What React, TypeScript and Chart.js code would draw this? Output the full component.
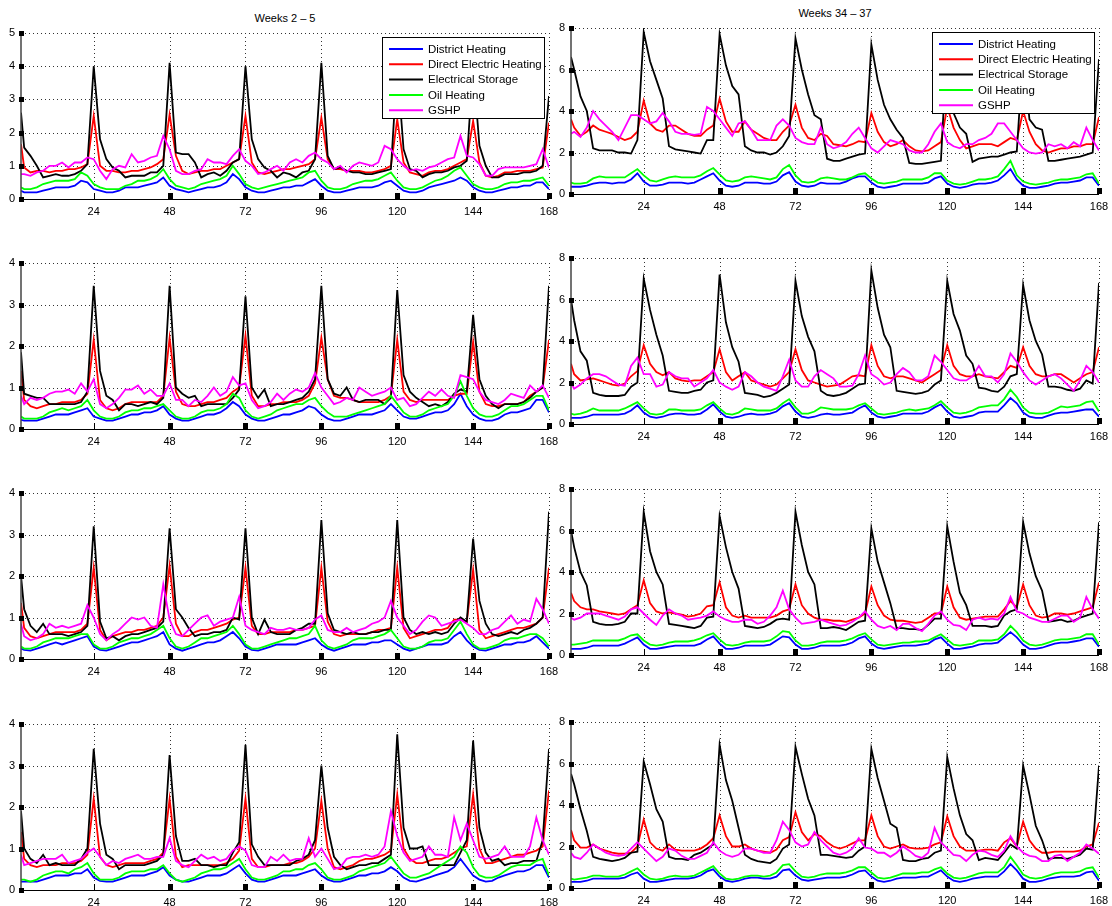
import React, { useEffect, useRef } from 'react';
import { Chart, registerables } from 'chart.js';

Chart.register(...registerables);
Chart.defaults.font.family = '"Liberation Sans", Arial, Helvetica, sans-serif';

// Hour of the week at which each sample is taken (first hour, then every second hour).
const HOURS: number[] = [1, ...Array.from({ length: 84 }, (_, i) => 2 * i + 2)];
const X_TICKS = [24, 48, 72, 96, 120, 144, 168];

const SERIES_NAMES = ['District Heating', 'Direct Electric Heating', 'Electrical Storage', 'Oil Heating', 'GSHP'];
const SERIES_COLORS = ['#0000ff', '#ff0000', '#000000', '#00ff00', '#ff00ff'];

// ---- Weeks 2 - 5 (winter), one row per week ----
const W2_DH = [0.25,
  0.2, 0.2, 0.2, 0.25, 0.3, 0.35, 0.35, 0.35, 0.4, 0.55, 0.5, 0.3,
  0.25, 0.2, 0.2, 0.25, 0.35, 0.35, 0.35, 0.4, 0.45, 0.5, 0.65, 0.4,
  0.3, 0.25, 0.2, 0.25, 0.3, 0.35, 0.35, 0.4, 0.5, 0.75, 0.6, 0.35,
  0.25, 0.2, 0.2, 0.25, 0.3, 0.35, 0.35, 0.4, 0.4, 0.5, 0.6, 0.4,
  0.25, 0.2, 0.2, 0.25, 0.3, 0.35, 0.35, 0.35, 0.4, 0.5, 0.55, 0.4,
  0.25, 0.2, 0.2, 0.25, 0.35, 0.4, 0.45, 0.5, 0.55, 0.65, 0.55, 0.35,
  0.25, 0.2, 0.2, 0.25, 0.3, 0.35, 0.35, 0.4, 0.4, 0.5, 0.5, 0.3];
const W2_DE = [1.65,
  0.95, 0.8, 0.85, 0.85, 0.8, 0.85, 0.85, 0.9, 0.9, 0.95, 1.05, 2.5,
  1.0, 0.85, 0.85, 0.8, 0.8, 0.85, 0.85, 0.9, 0.95, 1.05, 1.2, 2.55,
  1.3, 0.85, 0.75, 0.8, 0.85, 0.85, 0.9, 0.9, 1.0, 1.1, 1.2, 2.5,
  1.1, 0.8, 0.75, 0.8, 0.85, 0.9, 0.9, 0.95, 1.0, 1.05, 1.2, 2.45,
  1.2, 0.9, 0.9, 0.85, 0.85, 0.85, 0.8, 0.8, 0.85, 0.9, 1.0, 2.4,
  1.1, 0.8, 0.75, 0.7, 0.8, 0.85, 0.85, 0.9, 1.0, 1.1, 1.2, 2.35,
  1.1, 0.7, 0.65, 0.7, 0.8, 0.8, 0.85, 0.85, 0.85, 0.9, 0.95, 2.3];
const W2_ES = [2.6,
  1.55, 1.3, 1.0, 0.65, 0.7, 0.75, 0.7, 0.7, 0.75, 0.85, 1.05, 4.0,
  1.8, 1.2, 0.95, 0.85, 0.65, 0.7, 0.7, 0.7, 0.8, 0.8, 1.0, 4.1,
  1.4, 1.35, 1.35, 1.1, 0.65, 0.75, 0.8, 0.7, 0.85, 1.1, 1.2, 4.0,
  1.8, 1.2, 0.95, 0.85, 0.65, 0.8, 0.75, 0.65, 0.8, 0.85, 1.2, 4.1,
  1.3, 0.9, 0.95, 0.85, 0.8, 0.8, 0.75, 0.75, 0.8, 0.85, 0.9, 4.0,
  1.5, 0.9, 0.85, 0.65, 0.75, 0.8, 0.8, 0.85, 0.95, 1.0, 1.15, 4.0,
  1.6, 1.0, 0.65, 0.65, 0.75, 0.75, 0.75, 0.8, 0.8, 0.85, 1.0, 3.1];
const W2_OIL = [0.35,
  0.3, 0.3, 0.35, 0.45, 0.5, 0.55, 0.55, 0.55, 0.6, 0.8, 0.7, 0.45,
  0.35, 0.3, 0.3, 0.3, 0.4, 0.45, 0.55, 0.55, 0.6, 0.7, 0.9, 0.6,
  0.4, 0.35, 0.3, 0.35, 0.45, 0.5, 0.55, 0.6, 0.7, 1.0, 0.75, 0.45,
  0.35, 0.3, 0.35, 0.4, 0.45, 0.5, 0.55, 0.6, 0.65, 0.8, 0.85, 0.55,
  0.35, 0.3, 0.3, 0.35, 0.45, 0.5, 0.55, 0.55, 0.6, 0.7, 0.8, 0.55,
  0.35, 0.3, 0.3, 0.35, 0.45, 0.55, 0.6, 0.7, 0.85, 0.95, 0.7, 0.45,
  0.35, 0.3, 0.3, 0.35, 0.45, 0.5, 0.5, 0.55, 0.55, 0.6, 0.65, 0.4];
const W2_GSHP = [0.75,
  0.75, 0.7, 0.8, 0.85, 1.0, 1.0, 1.1, 0.95, 1.1, 1.1, 1.25, 1.2,
  0.85, 0.6, 0.9, 1.0, 0.95, 1.35, 1.1, 1.15, 1.25, 1.3, 1.9, 1.5,
  0.85, 0.75, 0.75, 0.85, 0.9, 1.2, 1.1, 1.1, 1.05, 1.3, 1.5, 1.15,
  1.0, 0.75, 0.8, 0.9, 1.0, 0.85, 1.1, 1.2, 1.1, 1.3, 1.4, 1.2,
  1.1, 0.9, 1.0, 0.8, 1.0, 1.1, 1.05, 1.0, 1.1, 1.6, 1.5, 1.2,
  1.0, 0.85, 0.9, 0.85, 0.95, 1.0, 1.1, 1.2, 1.25, 1.9, 1.3, 1.25,
  1.05, 0.7, 0.7, 0.9, 0.95, 0.95, 0.95, 0.95, 1.0, 1.05, 1.5, 0.95];

const W3_DH = [0.22,
  0.2, 0.2, 0.2, 0.25, 0.3, 0.35, 0.35, 0.35, 0.4, 0.45, 0.5, 0.3,
  0.25, 0.2, 0.2, 0.25, 0.3, 0.35, 0.35, 0.4, 0.4, 0.45, 0.55, 0.35,
  0.25, 0.2, 0.2, 0.25, 0.3, 0.35, 0.35, 0.4, 0.5, 0.65, 0.55, 0.35,
  0.25, 0.2, 0.2, 0.25, 0.3, 0.35, 0.35, 0.4, 0.45, 0.55, 0.5, 0.35,
  0.25, 0.2, 0.2, 0.25, 0.3, 0.35, 0.35, 0.35, 0.4, 0.45, 0.6, 0.45,
  0.3, 0.25, 0.25, 0.3, 0.35, 0.4, 0.4, 0.45, 0.6, 0.85, 0.55, 0.35,
  0.25, 0.2, 0.2, 0.25, 0.35, 0.4, 0.4, 0.45, 0.5, 0.7, 0.7, 0.4];
const W3_DE = [1.4,
  0.7, 0.55, 0.5, 0.55, 0.6, 0.6, 0.65, 0.65, 0.65, 0.7, 0.85, 2.15,
  0.7, 0.5, 0.45, 0.5, 0.6, 0.65, 0.65, 0.65, 0.65, 0.65, 0.8, 2.2,
  0.9, 0.6, 0.55, 0.55, 0.6, 0.65, 0.65, 0.7, 0.75, 0.9, 1.0, 2.25,
  0.8, 0.55, 0.55, 0.6, 0.6, 0.65, 0.65, 0.65, 0.7, 0.8, 1.1, 2.2,
  1.2, 0.8, 0.75, 0.75, 0.7, 0.65, 0.65, 0.65, 0.65, 0.7, 0.8, 2.15,
  0.9, 0.7, 0.65, 0.7, 0.7, 0.7, 0.7, 0.7, 0.8, 0.85, 0.85, 2.1,
  0.9, 0.6, 0.55, 0.55, 0.6, 0.6, 0.6, 0.65, 0.8, 0.9, 1.0, 2.15];
const W3_ES = [1.85,
  0.85, 0.8, 0.75, 0.75, 0.6, 0.6, 0.6, 0.6, 0.6, 0.65, 0.9, 3.45,
  1.4, 0.8, 0.7, 0.45, 0.6, 0.6, 0.55, 0.6, 0.65, 0.6, 0.75, 3.45,
  1.0, 0.85, 0.75, 0.8, 0.55, 0.6, 0.6, 0.6, 0.6, 0.75, 0.95, 3.2,
  1.0, 0.75, 0.95, 0.55, 0.6, 0.6, 0.65, 0.7, 0.75, 0.9, 1.2, 3.45,
  1.2, 0.85, 0.8, 1.0, 0.7, 0.65, 0.7, 0.7, 0.7, 0.6, 0.75, 3.35,
  1.3, 0.9, 0.75, 0.65, 0.55, 0.6, 0.55, 0.65, 0.85, 0.95, 0.9, 2.75,
  1.2, 0.8, 0.6, 0.5, 0.6, 0.6, 0.6, 0.65, 0.75, 0.9, 1.0, 3.45];
const W3_OIL = [0.3,
  0.25, 0.25, 0.25, 0.3, 0.4, 0.45, 0.5, 0.45, 0.5, 0.55, 0.7, 0.45,
  0.3, 0.25, 0.25, 0.3, 0.4, 0.45, 0.45, 0.5, 0.5, 0.55, 0.6, 0.45,
  0.3, 0.25, 0.25, 0.3, 0.4, 0.45, 0.45, 0.5, 0.6, 0.85, 0.75, 0.45,
  0.3, 0.25, 0.3, 0.35, 0.45, 0.5, 0.55, 0.6, 0.6, 0.7, 0.75, 0.55,
  0.4, 0.3, 0.3, 0.3, 0.35, 0.4, 0.45, 0.5, 0.55, 0.6, 0.8, 0.6,
  0.4, 0.3, 0.3, 0.35, 0.45, 0.5, 0.55, 0.6, 0.8, 1.15, 0.8, 0.5,
  0.35, 0.3, 0.3, 0.35, 0.45, 0.55, 0.55, 0.6, 0.7, 0.8, 0.8, 0.45];
const W3_GSHP = [0.8,
  0.6, 0.75, 0.7, 0.75, 0.85, 0.9, 0.9, 0.95, 0.85, 1.1, 0.9, 1.2,
  0.6, 0.5, 0.6, 0.75, 0.95, 0.95, 1.05, 0.85, 0.95, 0.8, 0.8, 1.1,
  0.7, 0.7, 0.55, 0.7, 0.65, 0.8, 1.0, 0.8, 0.9, 1.25, 1.05, 1.1,
  0.7, 0.5, 0.55, 0.65, 0.85, 0.7, 0.85, 0.95, 0.9, 1.0, 1.35, 1.0,
  0.8, 0.6, 0.65, 0.75, 0.7, 1.0, 0.9, 0.8, 0.85, 0.9, 1.0, 0.7,
  0.75, 0.55, 0.6, 0.75, 0.9, 0.8, 0.95, 0.8, 0.75, 1.3, 1.25, 1.2,
  0.9, 0.7, 0.65, 0.6, 0.7, 0.85, 0.8, 0.75, 1.05, 0.9, 1.05, 0.75];

const W4_DH = [0.25,
  0.22, 0.2, 0.25, 0.3, 0.35, 0.4, 0.35, 0.4, 0.45, 0.5, 0.55, 0.3,
  0.22, 0.2, 0.25, 0.3, 0.35, 0.4, 0.4, 0.45, 0.5, 0.55, 0.65, 0.35,
  0.25, 0.2, 0.25, 0.3, 0.35, 0.4, 0.4, 0.45, 0.55, 0.65, 0.5, 0.3,
  0.22, 0.2, 0.25, 0.3, 0.35, 0.35, 0.35, 0.35, 0.4, 0.45, 0.5, 0.35,
  0.25, 0.2, 0.25, 0.3, 0.35, 0.35, 0.35, 0.4, 0.4, 0.45, 0.45, 0.35,
  0.25, 0.2, 0.25, 0.3, 0.35, 0.35, 0.35, 0.4, 0.55, 0.65, 0.45, 0.3,
  0.22, 0.2, 0.25, 0.3, 0.35, 0.35, 0.4, 0.4, 0.45, 0.55, 0.4, 0.25];
const W4_DE = [1.35,
  0.75, 0.55, 0.5, 0.55, 0.6, 0.65, 0.65, 0.65, 0.65, 0.7, 0.85, 2.2,
  0.7, 0.45, 0.55, 0.6, 0.65, 0.65, 0.7, 0.7, 0.75, 0.8, 1.0, 2.25,
  0.85, 0.55, 0.55, 0.65, 0.7, 0.7, 0.75, 0.8, 0.85, 0.95, 1.0, 2.2,
  0.8, 0.6, 0.6, 0.65, 0.65, 0.65, 0.65, 0.7, 0.7, 0.75, 0.8, 2.2,
  0.9, 0.6, 0.55, 0.6, 0.6, 0.6, 0.6, 0.65, 0.7, 0.7, 0.75, 2.2,
  0.75, 0.5, 0.55, 0.6, 0.65, 0.7, 0.7, 0.75, 0.95, 0.95, 0.9, 2.15,
  0.7, 0.5, 0.55, 0.6, 0.65, 0.7, 0.75, 0.75, 0.8, 0.85, 1.0, 2.2];
const W4_ES = [2.0,
  1.2, 0.8, 0.65, 0.85, 0.6, 0.6, 0.6, 0.55, 0.6, 0.65, 0.8, 3.2,
  0.9, 0.5, 0.55, 0.45, 0.55, 0.6, 0.6, 0.65, 0.7, 0.75, 0.9, 3.15,
  1.2, 1.0, 0.75, 0.55, 0.6, 0.6, 0.65, 0.65, 0.7, 1.0, 0.95, 3.15,
  1.0, 0.6, 0.95, 0.65, 0.6, 0.6, 0.6, 0.7, 0.75, 0.85, 0.85, 3.35,
  1.1, 0.7, 0.65, 0.6, 0.65, 0.6, 0.6, 0.65, 0.65, 0.7, 0.7, 3.35,
  1.0, 0.7, 0.6, 0.65, 0.6, 0.65, 0.6, 0.65, 0.85, 1.0, 0.9, 2.9,
  1.4, 0.85, 0.6, 0.55, 0.6, 0.65, 0.6, 0.7, 0.75, 0.85, 1.0, 3.55];
const W4_OIL = [0.3,
  0.25, 0.25, 0.3, 0.4, 0.45, 0.5, 0.5, 0.5, 0.55, 0.6, 0.6, 0.35,
  0.25, 0.25, 0.3, 0.4, 0.45, 0.5, 0.5, 0.55, 0.6, 0.7, 0.8, 0.5,
  0.3, 0.25, 0.3, 0.4, 0.5, 0.5, 0.55, 0.6, 0.65, 0.8, 0.6, 0.35,
  0.25, 0.25, 0.3, 0.35, 0.4, 0.45, 0.5, 0.5, 0.55, 0.6, 0.8, 0.45,
  0.3, 0.25, 0.3, 0.35, 0.45, 0.5, 0.5, 0.5, 0.55, 0.6, 0.7, 0.5,
  0.3, 0.25, 0.25, 0.3, 0.4, 0.45, 0.45, 0.5, 0.7, 0.9, 0.6, 0.35,
  0.25, 0.25, 0.3, 0.35, 0.45, 0.5, 0.5, 0.55, 0.6, 0.6, 0.5, 0.3];
const W4_GSHP = [0.85,
  0.55, 0.45, 0.5, 0.6, 0.85, 0.75, 0.8, 0.75, 0.8, 0.85, 1.3, 1.0,
  0.6, 0.45, 0.6, 0.7, 0.85, 1.0, 0.95, 1.0, 0.8, 0.75, 1.8, 0.95,
  0.6, 0.55, 0.7, 0.85, 1.0, 1.05, 0.8, 0.9, 0.95, 1.0, 1.5, 0.8,
  0.7, 0.65, 0.6, 0.75, 0.7, 0.7, 0.75, 0.7, 0.7, 0.75, 0.95, 1.05,
  0.7, 0.65, 0.65, 0.75, 0.65, 0.7, 0.75, 0.85, 0.9, 1.0, 1.4, 1.0,
  0.8, 0.6, 0.7, 0.9, 1.05, 1.0, 0.8, 0.85, 0.9, 0.95, 0.85, 0.75,
  0.6, 0.6, 0.7, 0.75, 0.9, 1.05, 0.85, 0.95, 0.9, 1.45, 1.2, 0.85];

const W5_DH = [0.2,
  0.2, 0.2, 0.2, 0.25, 0.3, 0.35, 0.35, 0.35, 0.4, 0.4, 0.5, 0.3,
  0.22, 0.2, 0.2, 0.25, 0.3, 0.35, 0.35, 0.35, 0.4, 0.45, 0.55, 0.35,
  0.25, 0.2, 0.2, 0.25, 0.3, 0.35, 0.35, 0.35, 0.4, 0.5, 0.6, 0.4,
  0.25, 0.2, 0.2, 0.25, 0.3, 0.35, 0.35, 0.35, 0.4, 0.45, 0.5, 0.35,
  0.25, 0.2, 0.2, 0.25, 0.3, 0.35, 0.35, 0.4, 0.4, 0.45, 0.55, 0.45,
  0.3, 0.22, 0.2, 0.25, 0.3, 0.35, 0.4, 0.45, 0.55, 0.75, 0.55, 0.35,
  0.25, 0.2, 0.22, 0.3, 0.35, 0.4, 0.45, 0.45, 0.5, 0.6, 0.6, 0.3];
const W5_DE = [1.4,
  0.75, 0.6, 0.55, 0.6, 0.6, 0.6, 0.65, 0.65, 0.65, 0.7, 0.85, 2.2,
  0.8, 0.6, 0.55, 0.6, 0.65, 0.65, 0.65, 0.65, 0.7, 0.75, 0.9, 2.2,
  0.8, 0.55, 0.6, 0.6, 0.6, 0.6, 0.6, 0.6, 0.65, 0.75, 0.95, 2.2,
  0.75, 0.55, 0.55, 0.6, 0.6, 0.6, 0.65, 0.65, 0.7, 0.8, 1.0, 2.15,
  1.0, 0.55, 0.5, 0.55, 0.6, 0.7, 0.75, 0.75, 0.8, 0.85, 0.95, 2.3,
  1.0, 0.75, 0.65, 0.65, 0.7, 0.75, 0.75, 0.8, 0.9, 1.0, 1.05, 2.3,
  1.0, 0.65, 0.65, 0.7, 0.75, 0.8, 0.85, 0.85, 0.9, 0.95, 1.05, 2.4];
const W5_ES = [1.9,
  1.0, 0.75, 0.65, 0.85, 0.6, 0.65, 0.6, 0.6, 0.6, 0.75, 1.0, 3.4,
  1.6, 0.85, 0.75, 0.5, 0.6, 0.6, 0.6, 0.6, 0.65, 0.7, 0.85, 3.25,
  1.3, 0.7, 0.7, 0.75, 0.6, 0.6, 0.55, 0.6, 0.6, 0.9, 1.15, 3.5,
  1.1, 0.8, 0.6, 0.6, 0.6, 0.6, 0.6, 0.7, 0.75, 0.85, 1.2, 3.0,
  1.5, 0.8, 0.6, 0.5, 0.55, 0.6, 0.6, 0.65, 0.65, 0.75, 0.85, 3.75,
  1.5, 1.0, 1.0, 1.05, 0.6, 0.6, 0.6, 0.6, 0.6, 0.9, 1.2, 3.6,
  1.5, 0.9, 0.7, 0.75, 0.6, 0.65, 0.65, 0.7, 0.7, 0.7, 1.2, 3.4];
const W5_OIL = [0.25,
  0.25, 0.2, 0.25, 0.35, 0.4, 0.45, 0.45, 0.4, 0.5, 0.55, 0.65, 0.4,
  0.25, 0.25, 0.25, 0.3, 0.4, 0.45, 0.45, 0.45, 0.5, 0.5, 0.6, 0.4,
  0.25, 0.2, 0.25, 0.3, 0.4, 0.45, 0.5, 0.5, 0.55, 0.65, 0.75, 0.5,
  0.3, 0.25, 0.25, 0.3, 0.35, 0.45, 0.45, 0.5, 0.5, 0.6, 0.65, 0.5,
  0.3, 0.25, 0.25, 0.3, 0.35, 0.45, 0.5, 0.55, 0.6, 0.65, 0.8, 0.6,
  0.4, 0.3, 0.3, 0.35, 0.4, 0.5, 0.6, 0.7, 0.8, 1.05, 0.9, 0.55,
  0.35, 0.3, 0.3, 0.35, 0.45, 0.55, 0.6, 0.6, 0.6, 0.7, 0.75, 0.35];
const W5_GSHP = [0.85,
  0.6, 0.65, 0.7, 0.75, 0.75, 0.75, 0.85, 0.65, 0.7, 0.75, 0.9, 1.0,
  0.8, 0.6, 0.7, 0.65, 0.75, 0.8, 0.85, 0.75, 0.75, 0.8, 0.8, 1.25,
  0.7, 0.6, 0.55, 0.7, 0.85, 0.75, 0.8, 0.7, 0.75, 0.95, 1.05, 0.95,
  0.6, 0.55, 0.55, 0.8, 0.7, 0.85, 0.7, 0.75, 0.75, 1.25, 0.8, 1.0,
  0.75, 0.5, 0.55, 0.75, 0.8, 0.8, 0.85, 0.8, 0.85, 1.05, 1.9, 1.3,
  0.9, 0.7, 0.75, 0.8, 1.05, 0.85, 0.85, 0.8, 1.75, 1.2, 1.6, 1.2,
  0.8, 0.75, 0.8, 0.85, 1.05, 0.8, 0.8, 0.8, 1.05, 1.75, 1.2, 0.85];

// ---- Weeks 34 - 37 (late summer), one row per week ----
const W34_DH = [0.35,
  0.35, 0.35, 0.4, 0.5, 0.55, 0.55, 0.5, 0.55, 0.55, 0.7, 1.0, 0.6,
  0.4, 0.4, 0.45, 0.55, 0.55, 0.55, 0.5, 0.55, 0.7, 0.85, 1.0, 0.65,
  0.4, 0.35, 0.4, 0.55, 0.55, 0.55, 0.5, 0.5, 0.6, 0.9, 1.05, 0.6,
  0.4, 0.35, 0.4, 0.55, 0.5, 0.5, 0.5, 0.6, 0.75, 0.85, 0.85, 0.55,
  0.35, 0.3, 0.35, 0.4, 0.5, 0.5, 0.5, 0.5, 0.55, 0.75, 0.85, 0.5,
  0.35, 0.3, 0.35, 0.45, 0.5, 0.5, 0.55, 0.65, 0.9, 1.2, 0.7, 0.4,
  0.3, 0.3, 0.35, 0.4, 0.5, 0.55, 0.55, 0.6, 0.65, 0.8, 0.8, 0.4];
const W34_DE = [3.6,
  3.2, 2.8, 3.0, 3.3, 3.1, 3.0, 2.9, 2.75, 2.6, 2.7, 3.0, 4.5,
  3.4, 3.1, 3.0, 3.3, 3.3, 3.1, 2.9, 2.8, 2.8, 3.1, 3.3, 4.6,
  3.5, 3.0, 3.0, 3.5, 3.1, 2.9, 2.7, 2.6, 2.6, 3.0, 3.3, 4.3,
  3.2, 2.7, 2.6, 2.9, 2.8, 2.4, 2.35, 2.3, 2.4, 2.55, 2.5, 3.9,
  3.0, 2.5, 2.3, 2.4, 2.6, 2.3, 2.1, 2.05, 2.1, 2.3, 2.5, 4.2,
  3.2, 2.6, 2.2, 2.3, 2.4, 2.4, 2.4, 2.3, 2.5, 2.7, 2.6, 4.0,
  3.0, 2.4, 2.1, 2.0, 2.1, 2.2, 2.2, 2.3, 2.3, 2.4, 2.4, 3.7];
const W34_ES = [6.6,
  6.0, 4.7, 4.0, 2.2, 2.1, 2.1, 2.1, 2.0, 2.0, 1.95, 2.6, 7.8,
  6.4, 5.5, 4.6, 2.3, 2.15, 2.1, 2.05, 2.0, 1.95, 2.6, 2.6, 7.7,
  6.2, 5.2, 4.8, 2.3, 2.1, 2.0, 2.0, 1.9, 2.0, 2.3, 2.8, 7.5,
  6.0, 4.8, 3.8, 3.6, 1.7, 1.6, 1.6, 1.7, 1.8, 1.9, 1.95, 7.2,
  5.5, 4.3, 3.6, 3.1, 2.7, 1.5, 1.45, 1.45, 1.5, 1.55, 1.6, 7.4,
  3.9, 3.2, 2.9, 1.55, 1.7, 1.75, 1.8, 1.8, 1.9, 2.0, 2.05, 6.8,
  3.6, 3.2, 3.1, 1.6, 1.6, 1.65, 1.7, 1.75, 1.8, 1.9, 2.0, 6.5];
const W34_OIL = [0.55,
  0.5, 0.5, 0.55, 0.75, 0.85, 0.8, 0.8, 0.8, 0.8, 1.0, 1.2, 0.9,
  0.65, 0.6, 0.7, 0.8, 0.85, 0.8, 0.8, 0.8, 0.9, 1.1, 1.25, 0.95,
  0.65, 0.6, 0.65, 0.8, 0.85, 0.8, 0.75, 0.7, 0.8, 1.2, 1.4, 0.9,
  0.6, 0.55, 0.6, 0.75, 0.8, 0.75, 0.7, 0.7, 0.8, 0.95, 1.0, 0.75,
  0.55, 0.5, 0.55, 0.6, 0.7, 0.7, 0.7, 0.7, 0.8, 1.0, 1.0, 0.65,
  0.5, 0.45, 0.5, 0.6, 0.7, 0.7, 0.75, 0.85, 1.2, 1.6, 0.9, 0.6,
  0.5, 0.45, 0.5, 0.55, 0.65, 0.7, 0.7, 0.75, 0.8, 0.95, 1.0, 0.5];
const W34_GSHP = [2.9,
  3.0, 2.75, 3.2, 4.0, 3.6, 3.3, 3.0, 2.6, 3.2, 3.8, 3.8, 3.6,
  3.4, 3.5, 3.9, 3.5, 3.0, 2.9, 2.9, 2.85, 2.9, 4.2, 4.0, 3.6,
  3.2, 2.8, 3.4, 3.5, 3.1, 2.6, 2.6, 2.6, 3.3, 3.6, 3.3, 2.7,
  2.5, 2.4, 2.4, 3.2, 2.4, 2.2, 2.3, 2.5, 2.9, 3.2, 2.7, 2.2,
  2.0, 2.3, 2.6, 2.5, 2.4, 2.1, 2.0, 2.0, 2.4, 3.0, 3.4, 2.5,
  2.3, 2.2, 2.4, 2.4, 2.6, 2.7, 2.9, 3.4, 3.4, 3.0, 2.6, 2.2,
  2.0, 1.95, 2.0, 2.4, 2.3, 2.4, 2.2, 2.5, 2.3, 3.2, 2.6, 2.1];

const W35_DH = [0.3,
  0.3, 0.3, 0.35, 0.45, 0.45, 0.45, 0.45, 0.45, 0.5, 0.65, 0.9, 0.55,
  0.35, 0.3, 0.35, 0.45, 0.5, 0.5, 0.45, 0.45, 0.5, 0.7, 0.95, 0.6,
  0.35, 0.3, 0.35, 0.45, 0.5, 0.45, 0.45, 0.5, 0.6, 0.85, 1.0, 0.6,
  0.35, 0.3, 0.35, 0.45, 0.5, 0.45, 0.45, 0.5, 0.55, 0.75, 0.9, 0.55,
  0.35, 0.3, 0.35, 0.4, 0.5, 0.5, 0.5, 0.5, 0.6, 0.8, 0.95, 0.6,
  0.35, 0.3, 0.35, 0.4, 0.55, 0.6, 0.6, 0.6, 0.9, 1.25, 1.0, 0.55,
  0.35, 0.3, 0.3, 0.4, 0.5, 0.55, 0.55, 0.6, 0.65, 0.7, 0.7, 0.35];
const W35_DE = [2.9,
  2.4, 2.1, 2.15, 2.2, 2.1, 2.0, 1.9, 1.85, 1.95, 2.3, 2.55, 3.8,
  2.9, 2.5, 2.35, 2.5, 2.2, 2.1, 2.05, 2.1, 2.1, 2.3, 2.5, 3.6,
  2.5, 2.1, 2.3, 2.5, 2.1, 2.0, 1.9, 1.8, 1.9, 2.2, 2.5, 3.6,
  2.6, 2.1, 2.0, 1.9, 1.8, 1.85, 1.9, 2.1, 2.3, 2.35, 2.3, 3.8,
  2.8, 2.3, 2.2, 2.3, 2.3, 2.2, 2.1, 2.0, 2.2, 2.4, 2.6, 3.8,
  2.8, 2.4, 2.3, 2.3, 2.4, 2.3, 2.25, 2.2, 2.5, 2.8, 2.7, 3.7,
  2.8, 2.4, 2.3, 2.3, 2.4, 2.4, 2.2, 2.0, 2.2, 2.4, 2.5, 3.7];
const W35_ES = [6.0,
  5.0, 3.5, 3.05, 1.5, 1.4, 1.35, 1.35, 1.35, 1.4, 1.8, 2.0, 7.0,
  5.5, 4.3, 3.3, 1.6, 1.55, 1.5, 1.5, 1.6, 1.65, 2.0, 2.1, 7.2,
  4.9, 3.7, 3.0, 1.5, 1.45, 1.4, 1.3, 1.35, 1.5, 1.7, 1.9, 6.9,
  5.2, 4.2, 3.5, 1.6, 1.4, 1.35, 1.4, 1.5, 1.7, 1.9, 1.95, 7.4,
  5.6, 4.3, 3.7, 1.6, 1.55, 1.5, 1.45, 1.5, 1.6, 1.9, 2.1, 6.9,
  5.3, 4.5, 3.3, 2.9, 1.75, 1.7, 1.6, 1.55, 1.8, 2.3, 2.4, 6.7,
  5.0, 4.0, 3.35, 1.8, 1.8, 1.75, 1.65, 1.6, 1.7, 2.1, 1.95, 6.8];
const W35_OIL = [0.5,
  0.45, 0.5, 0.6, 0.75, 0.65, 0.65, 0.65, 0.65, 0.75, 0.9, 1.05, 0.75,
  0.5, 0.45, 0.5, 0.7, 0.7, 0.65, 0.65, 0.65, 0.7, 0.9, 1.05, 0.75,
  0.5, 0.45, 0.55, 0.75, 0.7, 0.65, 0.65, 0.65, 0.75, 1.0, 1.2, 0.8,
  0.5, 0.5, 0.6, 0.8, 0.75, 0.7, 0.7, 0.7, 0.75, 0.9, 1.0, 0.75,
  0.5, 0.45, 0.5, 0.55, 0.65, 0.7, 0.65, 0.7, 0.75, 0.9, 1.1, 0.8,
  0.55, 0.5, 0.55, 0.65, 0.8, 0.85, 0.9, 0.9, 1.2, 1.65, 1.3, 0.8,
  0.55, 0.5, 0.5, 0.55, 0.7, 0.85, 0.8, 0.85, 0.9, 1.05, 1.1, 0.6];
const W35_GSHP = [2.0,
  1.7, 1.9, 2.2, 2.4, 2.4, 2.3, 2.1, 1.9, 1.85, 2.8, 3.2, 2.4,
  2.4, 1.8, 1.9, 2.5, 2.3, 2.2, 2.2, 1.8, 2.0, 2.2, 2.6, 2.0,
  1.8, 1.65, 1.8, 2.5, 2.3, 2.0, 1.8, 1.7, 1.6, 2.3, 3.1, 2.1,
  1.8, 1.8, 2.3, 2.6, 2.4, 2.2, 1.8, 1.8, 1.85, 2.4, 3.3, 2.4,
  2.2, 1.9, 2.0, 2.4, 2.7, 2.5, 2.1, 2.1, 2.3, 3.3, 3.0, 2.6,
  2.2, 2.1, 2.1, 2.3, 2.8, 2.3, 2.3, 2.0, 2.4, 3.4, 3.0, 2.5,
  2.1, 1.9, 2.1, 2.3, 2.4, 2.2, 1.9, 1.6, 2.1, 2.8, 2.5, 2.0];

const W36_DH = [0.3,
  0.3, 0.3, 0.35, 0.45, 0.45, 0.45, 0.45, 0.45, 0.55, 0.7, 0.85, 0.5,
  0.3, 0.3, 0.35, 0.4, 0.45, 0.45, 0.45, 0.45, 0.55, 0.75, 0.9, 0.55,
  0.3, 0.3, 0.35, 0.45, 0.45, 0.45, 0.45, 0.5, 0.7, 0.9, 0.85, 0.5,
  0.3, 0.3, 0.35, 0.45, 0.45, 0.45, 0.45, 0.5, 0.6, 0.8, 0.9, 0.55,
  0.35, 0.3, 0.35, 0.4, 0.45, 0.45, 0.45, 0.5, 0.55, 0.75, 0.85, 0.55,
  0.3, 0.3, 0.35, 0.4, 0.5, 0.55, 0.55, 0.6, 0.85, 1.1, 0.85, 0.5,
  0.3, 0.3, 0.35, 0.45, 0.55, 0.6, 0.6, 0.65, 0.7, 0.8, 0.8, 0.4];
const W36_DE = [3.0,
  2.6, 2.3, 2.2, 2.2, 2.1, 2.05, 2.0, 1.95, 2.0, 2.2, 2.4, 3.6,
  2.5, 2.1, 2.0, 2.05, 2.0, 1.95, 1.85, 1.9, 2.0, 2.35, 2.4, 3.5,
  2.3, 1.9, 1.8, 1.9, 1.8, 1.8, 1.8, 1.8, 1.9, 2.1, 2.2, 3.4,
  2.4, 2.0, 1.8, 1.7, 1.7, 1.65, 1.65, 1.6, 1.7, 1.8, 2.0, 3.3,
  2.4, 1.9, 1.7, 1.65, 1.65, 1.6, 1.55, 1.6, 1.8, 2.0, 2.0, 3.3,
  2.3, 1.8, 1.7, 1.75, 1.8, 1.85, 1.85, 1.85, 2.2, 2.6, 2.3, 3.4,
  2.4, 1.9, 1.8, 1.85, 2.0, 2.0, 1.95, 2.0, 2.1, 2.2, 2.3, 3.5];
const W36_ES = [6.0,
  5.2, 4.0, 3.35, 1.6, 1.5, 1.45, 1.45, 1.5, 1.6, 2.0, 2.0, 6.9,
  5.0, 4.0, 3.4, 1.5, 1.45, 1.4, 1.35, 1.3, 1.4, 1.8, 1.85, 6.7,
  5.2, 4.0, 3.2, 1.4, 1.35, 1.3, 1.35, 1.5, 1.7, 1.75, 1.7, 6.9,
  5.3, 4.0, 3.4, 1.3, 1.3, 1.35, 1.3, 1.2, 1.4, 1.6, 1.65, 6.1,
  4.5, 3.5, 2.5, 1.3, 1.3, 1.25, 1.25, 1.2, 1.45, 1.75, 1.75, 6.2,
  4.5, 3.0, 2.4, 1.4, 1.4, 1.4, 1.35, 1.4, 1.9, 2.1, 2.2, 6.4,
  4.9, 3.8, 3.1, 1.6, 1.65, 1.7, 1.6, 1.65, 1.8, 1.9, 2.0, 6.4];
const W36_OIL = [0.5,
  0.5, 0.55, 0.6, 0.7, 0.7, 0.7, 0.7, 0.7, 0.8, 0.95, 1.0, 0.7,
  0.5, 0.45, 0.5, 0.6, 0.65, 0.65, 0.65, 0.7, 0.8, 0.95, 1.05, 0.75,
  0.5, 0.45, 0.5, 0.6, 0.65, 0.65, 0.65, 0.7, 0.9, 1.15, 1.1, 0.7,
  0.45, 0.45, 0.5, 0.6, 0.65, 0.65, 0.65, 0.7, 0.8, 0.95, 1.05, 0.75,
  0.5, 0.45, 0.5, 0.55, 0.6, 0.6, 0.65, 0.65, 0.7, 0.85, 1.0, 0.75,
  0.5, 0.45, 0.5, 0.55, 0.7, 0.7, 0.7, 0.75, 1.0, 1.4, 1.1, 0.7,
  0.5, 0.45, 0.5, 0.6, 0.7, 0.75, 0.75, 0.8, 0.85, 1.0, 1.0, 0.5];
const W36_GSHP = [1.8,
  1.7, 1.8, 2.0, 2.0, 2.0, 1.9, 1.8, 1.7, 1.85, 2.2, 2.3, 2.0,
  1.7, 1.45, 1.9, 2.2, 2.0, 1.9, 1.7, 1.75, 1.8, 1.9, 2.1, 1.85,
  1.7, 1.6, 1.6, 1.7, 1.7, 1.5, 1.6, 1.9, 2.3, 3.1, 2.2, 1.8,
  1.5, 1.55, 1.6, 1.7, 1.6, 1.5, 1.4, 1.45, 1.6, 1.8, 2.1, 1.7,
  1.4, 1.3, 1.4, 1.2, 1.5, 1.5, 1.3, 1.15, 1.5, 1.9, 2.1, 1.7,
  1.45, 1.4, 1.2, 1.7, 1.8, 1.7, 1.75, 1.7, 2.0, 2.8, 2.1, 2.0,
  1.8, 1.7, 1.6, 1.6, 1.75, 1.9, 1.9, 1.6, 1.8, 2.8, 2.2, 1.75];

const W37_DH = [0.3,
  0.3, 0.3, 0.35, 0.45, 0.45, 0.45, 0.45, 0.45, 0.5, 0.65, 0.75, 0.45,
  0.3, 0.3, 0.35, 0.4, 0.45, 0.45, 0.45, 0.5, 0.6, 0.8, 0.9, 0.55,
  0.35, 0.3, 0.35, 0.45, 0.5, 0.5, 0.45, 0.45, 0.55, 0.85, 0.9, 0.6,
  0.4, 0.35, 0.4, 0.45, 0.5, 0.5, 0.5, 0.55, 0.65, 0.8, 0.85, 0.55,
  0.35, 0.3, 0.35, 0.45, 0.5, 0.5, 0.5, 0.55, 0.55, 0.7, 0.85, 0.55,
  0.35, 0.3, 0.35, 0.45, 0.5, 0.55, 0.55, 0.55, 0.8, 1.15, 0.85, 0.45,
  0.3, 0.3, 0.35, 0.45, 0.5, 0.55, 0.55, 0.55, 0.6, 0.75, 0.8, 0.35];
const W37_DE = [2.8,
  2.3, 1.95, 1.95, 2.1, 1.9, 1.8, 1.7, 1.65, 1.65, 1.7, 2.0, 3.3,
  2.2, 1.9, 1.8, 2.1, 1.85, 1.8, 1.8, 1.8, 1.9, 2.1, 2.4, 3.5,
  2.5, 2.0, 2.0, 2.1, 1.9, 1.8, 1.75, 1.7, 1.85, 2.3, 2.45, 3.65,
  2.7, 2.3, 2.6, 2.5, 2.2, 2.0, 1.9, 2.0, 2.15, 2.3, 2.3, 3.5,
  2.5, 2.0, 1.9, 2.0, 2.1, 1.95, 1.9, 1.9, 1.95, 2.1, 2.2, 3.45,
  2.5, 2.0, 1.8, 1.8, 1.8, 1.85, 1.85, 1.8, 2.2, 2.4, 2.0, 3.2,
  2.3, 1.9, 1.7, 1.7, 1.75, 1.75, 1.75, 1.75, 1.8, 2.0, 2.1, 3.15];
const W37_ES = [5.5,
  5.0, 3.8, 2.75, 1.5, 1.4, 1.35, 1.3, 1.35, 1.45, 1.7, 1.75, 6.1,
  5.0, 3.8, 3.2, 1.5, 1.4, 1.4, 1.35, 1.6, 1.7, 1.9, 2.1, 6.9,
  5.2, 4.2, 2.9, 1.6, 1.4, 1.3, 1.25, 1.2, 1.4, 1.9, 2.1, 6.8,
  5.5, 4.3, 3.5, 1.6, 1.6, 1.55, 1.5, 1.45, 1.5, 1.8, 2.0, 6.7,
  5.3, 4.2, 3.1, 2.9, 1.35, 1.3, 1.3, 1.4, 1.45, 1.7, 1.8, 6.3,
  4.8, 3.5, 2.6, 2.3, 1.35, 1.45, 1.4, 1.35, 1.7, 2.1, 1.9, 5.9,
  4.5, 3.0, 2.3, 1.4, 1.45, 1.45, 1.4, 1.5, 1.6, 1.9, 1.85, 5.9];
const W37_OIL = [0.45,
  0.4, 0.45, 0.5, 0.6, 0.6, 0.55, 0.55, 0.55, 0.65, 0.8, 0.95, 0.65,
  0.45, 0.4, 0.45, 0.55, 0.6, 0.55, 0.55, 0.6, 0.75, 0.9, 1.05, 0.7,
  0.45, 0.4, 0.45, 0.55, 0.6, 0.6, 0.55, 0.6, 0.75, 1.1, 1.15, 0.8,
  0.55, 0.5, 0.55, 0.65, 0.7, 0.7, 0.7, 0.75, 0.85, 1.0, 1.0, 0.75,
  0.5, 0.45, 0.5, 0.6, 0.7, 0.7, 0.7, 0.75, 0.75, 0.9, 1.0, 0.7,
  0.5, 0.45, 0.5, 0.6, 0.7, 0.75, 0.75, 0.75, 1.0, 1.5, 1.1, 0.65,
  0.5, 0.45, 0.5, 0.6, 0.7, 0.75, 0.75, 0.75, 0.8, 0.95, 1.0, 0.5];
const W37_GSHP = [1.7,
  1.5, 1.4, 1.7, 2.1, 1.9, 1.7, 1.6, 1.55, 1.6, 1.9, 2.2, 1.9,
  1.6, 1.3, 1.5, 1.9, 1.8, 1.55, 1.4, 1.4, 1.55, 1.7, 2.2, 1.8,
  1.6, 1.5, 1.6, 1.9, 1.9, 1.8, 1.7, 1.7, 2.3, 3.2, 2.8, 2.2,
  2.0, 2.1, 2.7, 2.3, 2.0, 1.7, 1.6, 1.7, 1.9, 2.4, 1.95, 1.9,
  1.7, 1.7, 1.5, 1.7, 2.0, 1.8, 1.55, 1.45, 1.7, 2.9, 2.2, 1.9,
  1.6, 1.55, 1.3, 1.6, 1.8, 1.75, 1.6, 1.5, 1.8, 2.5, 2.0, 1.7,
  1.55, 1.5, 1.3, 1.3, 1.55, 1.6, 1.3, 1.5, 1.7, 2.1, 1.9, 1.65];

// ---- layout ----
const PLOT_W = 528;
const PLOT_H = 166;
const PAD_L = 30;
const PAD_T = 14;
const PAD_R = 18;
const PAD_B = 26;
const LEG_W = 163;
const LEG_H = 82;
const FONT = '"Liberation Sans", Arial, Helvetica, sans-serif';

type PanelDef = { left: number; top: number; ymax: number; step: number; series: number[][]; legend: boolean };

const PANELS: PanelDef[] = [
  { left: 21, top: 33, ymax: 5, step: 1, series: [W2_DH, W2_DE, W2_ES, W2_OIL, W2_GSHP], legend: true },
  { left: 21, top: 263, ymax: 4, step: 1, series: [W3_DH, W3_DE, W3_ES, W3_OIL, W3_GSHP], legend: false },
  { left: 21, top: 493, ymax: 4, step: 1, series: [W4_DH, W4_DE, W4_ES, W4_OIL, W4_GSHP], legend: false },
  { left: 21, top: 724, ymax: 4, step: 1, series: [W5_DH, W5_DE, W5_ES, W5_OIL, W5_GSHP], legend: false },
  { left: 571, top: 28, ymax: 8, step: 2, series: [W34_DH, W34_DE, W34_ES, W34_OIL, W34_GSHP], legend: true },
  { left: 571, top: 258, ymax: 8, step: 2, series: [W35_DH, W35_DE, W35_ES, W35_OIL, W35_GSHP], legend: false },
  { left: 571, top: 489, ymax: 8, step: 2, series: [W36_DH, W36_DE, W36_ES, W36_OIL, W36_GSHP], legend: false },
  { left: 571, top: 722, ymax: 8, step: 2, series: [W37_DH, W37_DE, W37_ES, W37_OIL, W37_GSHP], legend: false },
];

// Dotted grid underneath the lines; axes, square tick marks and the legend box on top.
const panelDecor = {
  id: 'panelDecor',
  beforeDatasetsDraw(chart: any) {
    const { ctx, chartArea: a, scales } = chart;
    const xs = scales.x;
    const ys = scales.y;
    ctx.save();
    ctx.strokeStyle = '#333';
    ctx.lineWidth = 1;
    ctx.setLineDash([1, 3]);
    ctx.beginPath();
    ys.ticks.forEach((t: any) => {
      if (t.value <= 0) return;
      const py = Math.round(ys.getPixelForValue(t.value)) + 0.5;
      ctx.moveTo(a.left, py);
      ctx.lineTo(a.right, py);
    });
    X_TICKS.forEach((v) => {
      const px = Math.round(xs.getPixelForValue(v)) + 0.5;
      ctx.moveTo(px, a.top);
      ctx.lineTo(px, a.bottom);
    });
    ctx.stroke();
    ctx.restore();
  },
  afterDatasetsDraw(chart: any, _args: any, opts: any) {
    const { ctx, chartArea: a, scales } = chart;
    const xs = scales.x;
    const ys = scales.y;
    ctx.save();
    // axis lines
    ctx.strokeStyle = '#000';
    ctx.lineWidth = 1;
    ctx.beginPath();
    ctx.moveTo(a.left, Math.round(a.bottom) + 0.5);
    ctx.lineTo(a.right, Math.round(a.bottom) + 0.5);
    ctx.stroke();
    ctx.strokeStyle = '#444';
    ctx.lineWidth = 1.5;
    ctx.beginPath();
    ctx.moveTo(a.left, a.top);
    ctx.lineTo(a.left, a.bottom);
    ctx.stroke();
    // square tick marks
    ctx.fillStyle = '#000';
    ys.ticks.forEach((t: any) => {
      const py = Math.round(ys.getPixelForValue(t.value));
      ctx.fillRect(Math.round(a.left) - 2, py - 2, 5, 5);
    });
    X_TICKS.forEach((v) => {
      const px = Math.round(xs.getPixelForValue(v));
      if (v === X_TICKS[0]) ctx.fillRect(px, Math.round(a.bottom) - 6, 1, 6);
      else ctx.fillRect(px - 2, Math.round(a.bottom) - 6, 5, 6);
    });
    // legend
    if (opts && opts.legend) {
      const lx = Math.round(a.right) - 4 - LEG_W;
      const ly = Math.round(a.top) + 4;
      ctx.fillStyle = '#fff';
      ctx.fillRect(lx, ly, LEG_W, LEG_H);
      ctx.strokeStyle = '#000';
      ctx.lineWidth = 1;
      ctx.strokeRect(lx + 0.5, ly + 0.5, LEG_W - 1, LEG_H - 1);
      ctx.font = `11.5px ${FONT}`;
      ctx.textBaseline = 'middle';
      ctx.textAlign = 'left';
      SERIES_NAMES.forEach((name, i) => {
        const cy = ly + 12 + i * 15.3;
        ctx.strokeStyle = SERIES_COLORS[i];
        ctx.lineWidth = 2;
        ctx.beginPath();
        ctx.moveTo(lx + 7, cy);
        ctx.lineTo(lx + 41, cy);
        ctx.stroke();
        ctx.fillStyle = '#000';
        ctx.fillText(name, lx + 46, cy + 0.5);
      });
    }
    ctx.restore();
  },
};

function PanelChart({ panel }: { panel: PanelDef }) {
  const ref = useRef<HTMLCanvasElement | null>(null);

  useEffect(() => {
    if (!ref.current) return;
    const tickFont = { family: FONT, size: 11 };
    const chart = new Chart(ref.current, {
      type: 'line',
      data: {
        datasets: panel.series.map((values, i) => ({
          label: SERIES_NAMES[i],
          data: HOURS.map((h, k) => ({ x: h, y: values[k] })),
          borderColor: SERIES_COLORS[i],
          backgroundColor: SERIES_COLORS[i],
          borderWidth: 1.8,
          pointRadius: 0,
          tension: 0,
          fill: false,
          order: SERIES_NAMES.length - 1 - i,
        })),
      },
      options: {
        responsive: false,
        animation: false,
        devicePixelRatio: 1,
        layout: { padding: { left: 0, top: PAD_T, right: PAD_R, bottom: 0 } },
        plugins: {
          legend: { display: false },
          tooltip: { enabled: false },
          panelDecor: { legend: panel.legend },
        } as any,
        scales: {
          x: {
            type: 'linear',
            min: 1,
            max: 168,
            afterBuildTicks: (s: any) => {
              s.ticks = X_TICKS.map((v) => ({ value: v }));
            },
            afterFit: (s: any) => {
              s.height = PAD_B;
            },
            grid: { display: false, drawTicks: false },
            border: { display: false },
            ticks: { autoSkip: false, maxRotation: 0, padding: 6.5, color: '#000', font: tickFont },
          },
          y: {
            type: 'linear',
            min: 0,
            max: panel.ymax,
            afterFit: (s: any) => {
              s.width = PAD_L;
            },
            grid: { display: false, drawTicks: false },
            border: { display: false },
            ticks: { stepSize: panel.step, padding: 6, color: '#000', font: tickFont },
          },
        },
      } as any,
      plugins: [panelDecor as any],
    });
    return () => chart.destroy();
  }, [panel]);

  return (
    <canvas
      ref={ref}
      width={PLOT_W + PAD_L + PAD_R}
      height={PLOT_H + PAD_T + PAD_B}
      style={{ position: 'absolute', left: panel.left - PAD_L, top: panel.top - PAD_T }}
    />
  );
}

const titleStyle = (left: number, top: number): React.CSSProperties => ({
  position: 'absolute',
  left,
  top,
  width: PLOT_W,
  textAlign: 'center',
  font: `11px ${FONT}`,
  lineHeight: '13px',
  color: '#000',
  whiteSpace: 'nowrap',
});

export default function App() {
  return (
    <div style={{ position: 'absolute', left: 0, top: 0, width: 1112, height: 906, background: '#fff', overflow: 'hidden' }}>
      <div style={titleStyle(21, 12)}>Weeks 2 – 5</div>
      <div style={titleStyle(571, 7)}>Weeks 34 – 37</div>
      {PANELS.map((p, i) => (
        <PanelChart key={i} panel={p} />
      ))}
    </div>
  );
}
